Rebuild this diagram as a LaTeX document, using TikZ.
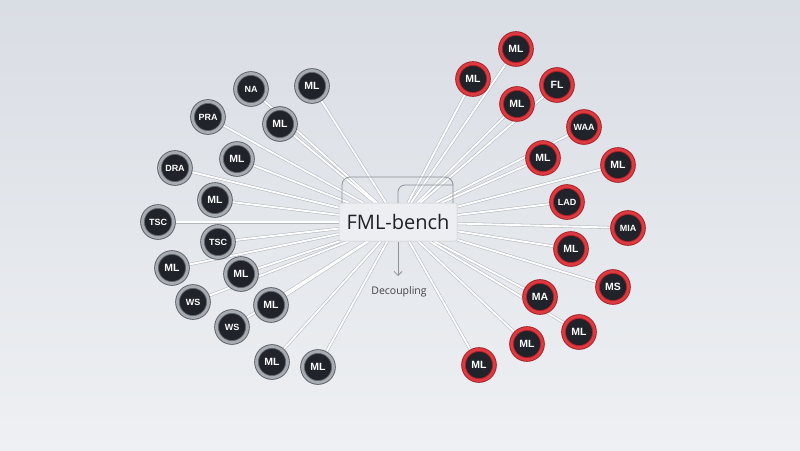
\documentclass[tikz,border=0pt]{standalone}
\usepackage{fontspec}
\setmainfont{Open Sans}
\newfontfamily\labfont{Liberation Sans}
\usetikzlibrary{shadows,arrows.meta}
\pgfdeclarelayer{bg}
\pgfsetlayers{bg,main}
\definecolor{bgtop}{HTML}{D9DDE4}
\definecolor{bgbot}{HTML}{EEF0F3}
\definecolor{core}{HTML}{202329}
\definecolor{greyedge}{HTML}{5C6168}
\definecolor{greyband}{HTML}{A7ACB2}
\definecolor{rededge}{HTML}{A91F26}
\definecolor{redband}{HTML}{DC3A41}
\definecolor{boxfill}{HTML}{EDEFF2}
\definecolor{boxline}{HTML}{C9CDD3}
\definecolor{brack}{HTML}{8C9198}
\definecolor{txt}{HTML}{1E2126}
\definecolor{wire}{HTML}{B4B9C0}
\tikzset{
  bead/.style={circle, minimum size=31pt, inner sep=0pt, fill=core,
    line width=0.9pt, double distance=2.8pt, text=white,
    font=\labfont\bfseries\fontsize{10.5}{10.5}\selectfont,
    drop shadow={shadow xshift=-1.2pt, shadow yshift=-2pt, opacity=0.35}},
  greybead/.style={bead, draw=greyedge, double=greyband},
  redbead/.style={bead, draw=rededge, double=redband},
  small/.style={font=\labfont\bfseries\fontsize{9}{9}\selectfont},
  wireback/.style={draw=wire, line width=3pt},
  wirefront/.style={draw=white, line width=1.9pt},
}
\begin{document}
\begin{tikzpicture}[x=1pt,y=-1pt]
\useasboundingbox (0,0) rectangle (800,450);
\begin{pgfonlayer}{bg}
  \shade[top color=bgtop, bottom color=bgbot] (0,0) rectangle (800,450);
\end{pgfonlayer}

% central box
\node[fill=boxfill, fill opacity=0.95, draw=boxline, line width=0.5pt, rounded corners=2pt,
      minimum width=118pt, minimum height=38pt, inner sep=0pt,
      text=txt, text opacity=1, font=\fontsize{20}{20}\selectfont] (fml) at (398,222) {FML-bench};
\draw[brack, line width=0.8pt, rounded corners=8pt]
  (342,203) -- (342,177) -- (453,177) -- (453,203);
\draw[brack, line width=0.8pt, rounded corners=7pt]
  (398,203) -- (398,185) -- (453,185);
\coordinate (tip) at (398,276);
\draw[brack, line width=0.8pt, -{Straight Barb[length=4pt,width=8pt]}] (398,241.5) -- (tip);
\node[text=txt!85, font=\fontsize{10.5}{10.5}\selectfont] (dec) at (399,292) {Decoupling};

% left nodes
\node[greybead, small] (l1) at (251,89) {NA};
\node[greybead] (l2) at (312,86) {ML};
\node[greybead, small] (l3) at (208,117) {PRA};
\node[greybead] (l4) at (280,124) {ML};
\node[greybead, small] (l5) at (175,168) {DRA};
\node[greybead] (l6) at (237,159) {ML};
\node[greybead] (l7) at (215,200) {ML};
\node[greybead, small] (l8) at (158,222) {TSC};
\node[greybead, small] (l9) at (218,242) {TSC};
\node[greybead] (l10) at (172,268) {ML};
\node[greybead] (l11) at (241,274) {ML};
\node[greybead, small] (l12) at (193,302) {WS};
\node[greybead] (l13) at (271,305) {ML};
\node[greybead, small] (l14) at (232,327) {WS};
\node[greybead] (l15) at (272,362) {ML};
\node[greybead] (l16) at (318,367) {ML};

% right nodes
\node[redbead] (r1) at (516,49) {ML};
\node[redbead] (r2) at (473,79) {ML};
\node[redbead] (r3) at (557,85) {FL};
\node[redbead] (r4) at (517,104) {ML};
\node[redbead, small] (r5) at (584,127) {WAA};
\node[redbead] (r6) at (543,158) {ML};
\node[redbead] (r7) at (618,165) {ML};
\node[redbead, small] (r8) at (567,202) {LAD};
\node[redbead, small] (r9) at (628,228) {MIA};
\node[redbead] (r10) at (571,249) {ML};
\node[redbead] (r11) at (613,287) {MS};
\node[redbead] (r12) at (540,297) {MA};
\node[redbead] (r13) at (579,332) {ML};
\node[redbead] (r14) at (527,344) {ML};
\node[redbead] (r15) at (479,365) {ML};

\begin{pgfonlayer}{bg}
  \foreach \n in {l1,l2,l3,l4,l5,l6,l7,l8,l9,l10,l11,l12,l13,l14,l15,l16,
                  r1,r2,r3,r4,r5,r6,r7,r8,r9,r10,r11,r12,r13,r14,r15}{
    \draw[wireback] (\n) -- (fml);
  }
  \foreach \n in {l1,l2,l3,l4,l5,l6,l7,l8,l9,l10,l11,l12,l13,l14,l15,l16,
                  r1,r2,r3,r4,r5,r6,r7,r8,r9,r10,r11,r12,r13,r14,r15}{
    \draw[wirefront] (\n) -- (fml);
  }
\end{pgfonlayer}
\end{tikzpicture}
\end{document}
